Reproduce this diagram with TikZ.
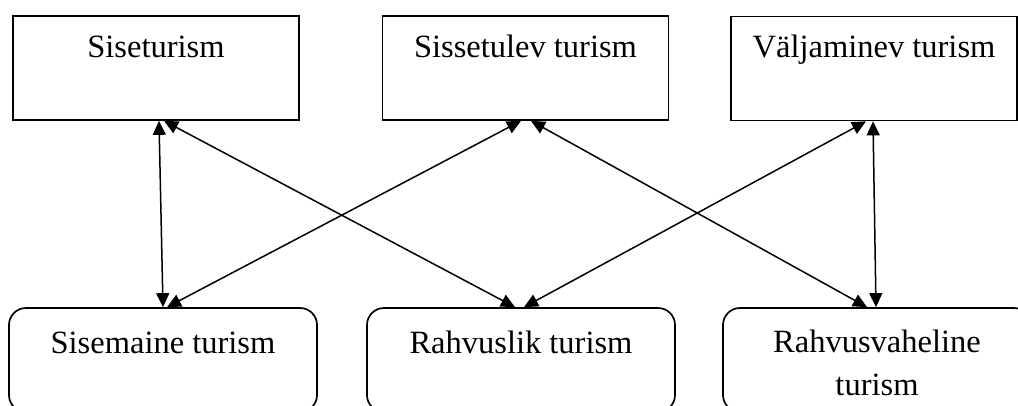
\documentclass[tikz,border=0pt]{standalone}
\usepackage{fontspec}
\setmainfont{Liberation Serif}
\usetikzlibrary{arrows.meta}
\begin{document}
\begin{tikzpicture}[x=1pt,y=-1pt,
  topbox/.style={draw, line width=1.7pt, minimum width=286pt, minimum height=104pt, inner sep=0pt},
  botbox/.style={draw, line width=1.7pt, rounded corners=17pt, minimum width=308pt, minimum height=104pt, inner sep=0pt},
  lbl/.style={anchor=base, inner sep=0pt, font=\fontsize{32.5}{43}\selectfont},
  conn/.style={line width=1.5pt, {Triangle[length=14pt,width=13pt]}-{Triangle[length=14pt,width=13pt]}}]
\useasboundingbox (0,0) rectangle (1018,405);
\clip (0,0) rectangle (1018,405);
% top boxes
\node[topbox] (s1) at (156,68) {};
\node[topbox] (s2) at (525.5,68) {};
\node[topbox] (s3) at (874,68.5) {};
\node[lbl] (s1t) at (156,57) {Siseturism};
\node[lbl] (s2t) at (525.5,57) {Sissetulev turism};
\node[lbl] (s3t) at (874,57) {Väljaminev turism};
% bottom boxes
\node[botbox] (b1) at (163,360) {};
\node[botbox] (b2) at (521,360) {};
\node[botbox] (b3) at (877,360) {};
\node[lbl] (b1t) at (163,353) {Sisemaine turism};
\node[lbl] (b2t) at (521,353) {Rahvuslik turism};
\node[lbl] (b3t) at (877,352) {Rahvusvaheline};
\node[lbl] (b3u) at (877,395) {turism};
% connectors
\draw[conn] ([xshift=3pt]s1.south) -- (b1.north);
\draw[conn] ([xshift=8pt]s1.south) -- ([xshift=-6pt]b2.north);
\draw[conn] ([xshift=-4.5pt]s2.south) -- ([xshift=4pt]b1.north);
\draw[conn] ([xshift=5.5pt]s2.south) -- ([xshift=-10pt]b3.north);
\draw[conn] ([xshift=-8pt]s3.south) -- ([xshift=3pt]b2.north);
\draw[conn] ([xshift=-1pt]s3.south) -- ([xshift=-1pt]b3.north);
\end{tikzpicture}
\end{document}
